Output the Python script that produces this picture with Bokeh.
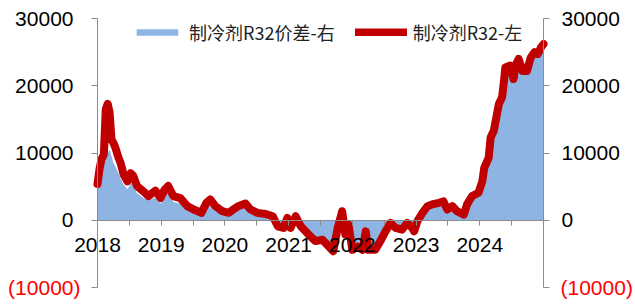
from bokeh.plotting import figure
from bokeh.models import Range1d, LinearAxis, FixedTicker, Label, Legend, LegendItem
from bokeh.embed import file_html
from bokeh.resources import INLINE

# time in fractional years
t = [2018.00, 2018.03, 2018.06, 2018.10, 2018.13, 2018.16, 2018.19, 2018.22, 2018.25, 2018.28,
     2018.33, 2018.36, 2018.41, 2018.47, 2018.52, 2018.56, 2018.62, 2018.72, 2018.80, 2018.91,
     2018.99, 2019.05, 2019.11, 2019.19, 2019.30, 2019.41, 2019.51, 2019.63, 2019.71, 2019.77,
     2019.85, 2019.96, 2020.06, 2020.13, 2020.21, 2020.32, 2020.40, 2020.51, 2020.64, 2020.75,
     2020.83, 2020.92, 2020.98, 2021.03, 2021.11, 2021.19, 2021.31, 2021.42, 2021.53, 2021.63,
     2021.70, 2021.77, 2021.84, 2021.89, 2021.94, 2022.00, 2022.08, 2022.16, 2022.21, 2022.25,
     2022.36, 2022.44, 2022.52, 2022.60, 2022.68, 2022.78, 2022.86, 2022.94, 2022.97, 2023.02,
     2023.10, 2023.18, 2023.25, 2023.36, 2023.43, 2023.49, 2023.57, 2023.64, 2023.75, 2023.80,
     2023.88, 2023.98, 2024.04, 2024.07, 2024.14, 2024.17, 2024.22, 2024.27, 2024.30, 2024.35,
     2024.38, 2024.40, 2024.48, 2024.53, 2024.56, 2024.61, 2024.67, 2024.74, 2024.80, 2024.86,
     2024.91, 2024.96, 2025.00]

# 制冷剂R32 (left axis)
r32 = [5400, 7500, 9000, 9800, 16500, 17300, 16000, 12000, 11500, 10800,
       9300, 8600, 6800, 5800, 7000, 6600, 5100, 4300, 3600, 4400,
       3300, 4500, 5100, 3600, 3300, 2100, 1600, 1100, 2600, 3100,
       2100, 1340, 1100, 1600, 2100, 2500, 1600, 1100, 940, 600,
       -900, -1150, 350, -1150, 600, -900, -2100, -3100, -2900, -3900,
       -4600, -1150, 1340, -2100, -650, -4400, -3900, -4400, -1650, -4400,
       -4400, -3100, -1650, -400, -1150, -1400, -400, -1150, -1650, -150,
       1100, 2100, 2350, 2600, 2800, 1600, 2100, 1340, 850, 2350,
       3600, 4100, 5800, 7800, 9300, 12300, 13300, 15800, 17300, 18300,
       20700, 22700, 23000, 21000, 23000, 24000, 22200, 22200, 24200, 25000,
       24700, 25700, 26200]

# 制冷剂R32价差 (right axis)
spread = [5000, 6000, 7500, 8500, 9500, 10000, 10500, 9500, 8500, 8000,
          7000, 6300, 5300, 4600, 5500, 5300, 4000, 3300, 3000, 3400,
          2500, 3500, 4600, 2700, 2500, 1600, 1100, 900, 2200, 2700,
          1800, 1100, 900, 1300, 1700, 2100, 1300, 900, 800, 500,
          -700, -1000, 200, -1000, 300, -800, -1900, -2900, -2700, -3500,
          -3800, -1500, -500, -2000, -1000, -3800, -3600, -3800, -2000, -3800,
          -3900, -2800, -1500, -400, -1000, -1200, -400, -1000, -1400, -100,
          1100, 2100, 2300, 2600, 2800, 1800, 2200, 1500, 1000, 2500,
          3700, 4200, 6000, 8000, 9300, 12000, 13000, 15500, 17000, 18000,
          20500, 22500, 22800, 21500, 22800, 23800, 22300, 22300, 24000, 24800,
          24600, 25500, 26000]

y_ticks = [-10000, 0, 10000, 20000, 30000]
y_labels = ["(10000)", "0", "10000", "20000", "30000"]
years = [2018, 2019, 2020, 2021, 2022, 2023, 2024, 2025]
year_labels = ["2018", "2019", "2020", "2021", "2022", "2023", "2024", ""]
half_ticks = [2018.5, 2019.5, 2020.5, 2021.5, 2022.5, 2023.5, 2024.5]

AXIS_GRAY = "#8c8c8c"
FONT = "Liberation Sans"

# canvas geometry (pixels) – the plot area spans the whole canvas, axes sit at fixed data locations
W, H = 635, 300
AX_L, AX_R, AX_T, AX_B = 97, 543, 18, 287
x0, x1 = years[0], years[-1]
y0, y1 = y_ticks[0], y_ticks[-1]
xs = (x1 - x0) / (AX_R - AX_L)
ys = (y1 - y0) / (AX_B - AX_T)
xr = Range1d(x0 - AX_L * xs, x1 + (W - AX_R) * xs)
yr = Range1d(y0 - (H - AX_B) * ys, y1 + AX_T * ys)

p = figure(width=W, height=H, output_backend="svg", toolbar_location=None,
           x_range=xr, y_range=yr,
           min_border_left=0, min_border_right=0, min_border_top=0, min_border_bottom=0)
p.outline_line_color = None
p.xgrid.visible = False
p.ygrid.visible = False
p.background_fill_color = "white"

area = p.varea(x=t, y1=0, y2=spread, fill_color="#8EB4E3", fill_alpha=1.0)
line = p.line(t, r32, line_color="#C00000", line_width=8, line_join="round", line_cap="round")

# bottom axis at y = 0
xa = p.xaxis[0]
xa.fixed_location = 0
xa.bounds = (x0, x1)
xa.ticker = FixedTicker(ticks=years + half_ticks)
ov = {float(y): lab for y, lab in zip(years, year_labels)}
ov.update({float(h): "" for h in half_ticks})
xa.major_label_overrides = ov
xa.axis_line_color = AXIS_GRAY
xa.major_tick_line_color = AXIS_GRAY
xa.major_tick_in = 0
xa.major_tick_out = 5
xa.minor_tick_line_color = None
xa.major_label_text_font = FONT
xa.major_label_text_font_size = "21px"
xa.major_label_text_color = "black"
xa.major_label_standoff = 13

ylab_over = {float(v): (lab if v >= 0 else "") for v, lab in zip(y_ticks, y_labels)}

def style_y(ax, standoff, loc):
    ax.fixed_location = loc
    ax.bounds = (y0, y1)
    ax.ticker = FixedTicker(ticks=y_ticks)
    ax.major_label_overrides = ylab_over
    ax.axis_line_color = AXIS_GRAY
    ax.major_tick_line_color = AXIS_GRAY
    ax.major_tick_in = 0
    ax.major_tick_out = 6
    ax.minor_tick_line_color = None
    ax.major_label_text_font = FONT
    ax.major_label_text_font_size = "21px"
    ax.major_label_text_color = "black"
    ax.major_label_standoff = standoff

style_y(p.yaxis[0], 18, x0)
ry = LinearAxis()
style_y(ry, 12, x1)
p.add_layout(ry, "right")

# red negative labels
neg_lab = y_labels[0]
p.add_layout(Label(x=x0, y=y0, x_offset=-17, text=neg_lab, text_align="right",
                   text_baseline="middle", text_color="#FF0000", text_font=FONT,
                   text_font_size="21px"))
p.add_layout(Label(x=x1, y=y0, x_offset=17, text=neg_lab, text_align="left",
                   text_baseline="middle", text_color="#FF0000", text_font=FONT,
                   text_font_size="21px"))

legend = Legend(items=[LegendItem(label="制冷剂R32价差-右", renderers=[area]),
                       LegendItem(label="制冷剂R32-左", renderers=[line])],
                orientation="horizontal", location=(131, 255),
                glyph_width=52, glyph_height=8, label_standoff=6, spacing=20,
                padding=0, margin=0, border_line_alpha=0, background_fill_alpha=0,
                label_text_font="Noto Sans CJK SC", label_text_font_size="18px",
                label_text_color="#222222", label_height=16)
p.add_layout(legend)

open("out.html", "w").write(file_html(p, INLINE))
